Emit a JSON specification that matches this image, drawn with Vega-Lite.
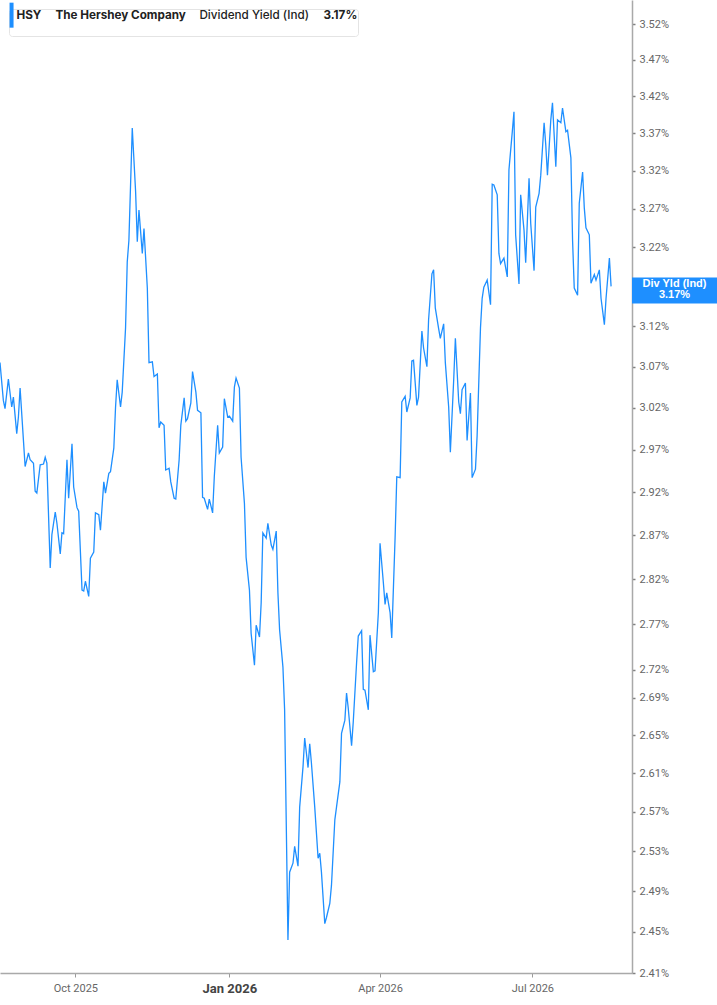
{
  "$schema": "https://vega.github.io/schema/vega-lite/v6.json",
  "width": 632,
  "height": 973,
  "padding": 0,
  "background": "white",
  "datasets": {
    "yield": [
      {"date":"2025-08-17","v":3.075},{"date":"2025-08-19","v":3.029},{"date":"2025-08-20","v":3.019},{"date":"2025-08-22","v":3.055},
      {"date":"2025-08-24","v":3.021},{"date":"2025-08-25","v":3.033},{"date":"2025-08-27","v":2.989},{"date":"2025-08-28","v":3.009},
      {"date":"2025-08-29","v":3.044},{"date":"2025-08-31","v":2.981},{"date":"2025-09-01","v":2.950},{"date":"2025-09-03","v":2.966},
      {"date":"2025-09-04","v":2.958},{"date":"2025-09-06","v":2.954},{"date":"2025-09-07","v":2.921},{"date":"2025-09-08","v":2.919},
      {"date":"2025-09-10","v":2.952},{"date":"2025-09-12","v":2.953},{"date":"2025-09-13","v":2.961},{"date":"2025-09-14","v":2.954},
      {"date":"2025-09-16","v":2.833},{"date":"2025-09-17","v":2.871},{"date":"2025-09-19","v":2.897},{"date":"2025-09-20","v":2.884},
      {"date":"2025-09-22","v":2.849},{"date":"2025-09-23","v":2.873},{"date":"2025-09-24","v":2.872},{"date":"2025-09-26","v":2.958},
      {"date":"2025-09-27","v":2.913},{"date":"2025-09-29","v":2.977},{"date":"2025-09-30","v":2.926},{"date":"2025-10-02","v":2.902},
      {"date":"2025-10-03","v":2.898},{"date":"2025-10-05","v":2.808},{"date":"2025-10-06","v":2.807},{"date":"2025-10-07","v":2.818},
      {"date":"2025-10-09","v":2.801},{"date":"2025-10-10","v":2.844},{"date":"2025-10-12","v":2.851},{"date":"2025-10-13","v":2.896},
      {"date":"2025-10-15","v":2.894},{"date":"2025-10-16","v":2.876},{"date":"2025-10-18","v":2.932},{"date":"2025-10-19","v":2.919},
      {"date":"2025-10-21","v":2.942},{"date":"2025-10-22","v":2.944},{"date":"2025-10-24","v":2.972},{"date":"2025-10-25","v":3.020},
      {"date":"2025-10-26","v":3.054},{"date":"2025-10-28","v":3.021},{"date":"2025-10-29","v":3.039},{"date":"2025-10-31","v":3.118},
      {"date":"2025-11-01","v":3.201},{"date":"2025-11-02","v":3.229},{"date":"2025-11-04","v":3.377},{"date":"2025-11-06","v":3.292},
      {"date":"2025-11-07","v":3.227},{"date":"2025-11-08","v":3.268},{"date":"2025-11-10","v":3.212},{"date":"2025-11-11","v":3.244},
      {"date":"2025-11-13","v":3.168},{"date":"2025-11-14","v":3.075},{"date":"2025-11-16","v":3.076},{"date":"2025-11-17","v":3.058},
      {"date":"2025-11-19","v":3.061},{"date":"2025-11-20","v":2.996},{"date":"2025-11-21","v":3.003},{"date":"2025-11-23","v":2.999},
      {"date":"2025-11-24","v":2.946},{"date":"2025-11-26","v":2.948},{"date":"2025-11-27","v":2.932},{"date":"2025-11-29","v":2.913},
      {"date":"2025-11-30","v":2.912},{"date":"2025-12-02","v":2.958},{"date":"2025-12-03","v":2.999},{"date":"2025-12-05","v":3.032},
      {"date":"2025-12-06","v":3.004},{"date":"2025-12-07","v":3.007},{"date":"2025-12-09","v":3.026},{"date":"2025-12-10","v":3.064},
      {"date":"2025-12-12","v":3.039},{"date":"2025-12-13","v":3.017},{"date":"2025-12-15","v":3.014},{"date":"2025-12-16","v":2.914},
      {"date":"2025-12-17","v":2.913},{"date":"2025-12-19","v":2.900},{"date":"2025-12-20","v":2.912},{"date":"2025-12-22","v":2.896},
      {"date":"2025-12-23","v":2.938},{"date":"2025-12-25","v":2.999},{"date":"2025-12-26","v":2.966},{"date":"2025-12-28","v":2.973},
      {"date":"2025-12-29","v":3.031},{"date":"2025-12-31","v":3.009},{"date":"2026-01-01","v":3.010},{"date":"2026-01-03","v":3.004},
      {"date":"2026-01-04","v":3.045},{"date":"2026-01-05","v":3.056},{"date":"2026-01-07","v":3.044},{"date":"2026-01-08","v":2.961},
      {"date":"2026-01-10","v":2.907},{"date":"2026-01-11","v":2.845},{"date":"2026-01-13","v":2.808},{"date":"2026-01-14","v":2.760},
      {"date":"2026-01-16","v":2.725},{"date":"2026-01-17","v":2.769},{"date":"2026-01-19","v":2.756},{"date":"2026-01-20","v":2.794},
      {"date":"2026-01-21","v":2.873},{"date":"2026-01-23","v":2.867},{"date":"2026-01-24","v":2.884},{"date":"2026-01-26","v":2.859},
      {"date":"2026-01-27","v":2.854},{"date":"2026-01-29","v":2.875},{"date":"2026-01-30","v":2.805},{"date":"2026-01-31","v":2.764},
      {"date":"2026-02-02","v":2.723},{"date":"2026-02-03","v":2.677},{"date":"2026-02-05","v":2.442},{"date":"2026-02-06","v":2.509},
      {"date":"2026-02-08","v":2.518},{"date":"2026-02-09","v":2.535},{"date":"2026-02-11","v":2.515},{"date":"2026-02-12","v":2.575},
      {"date":"2026-02-14","v":2.617},{"date":"2026-02-15","v":2.647},{"date":"2026-02-17","v":2.616},{"date":"2026-02-18","v":2.641},
      {"date":"2026-02-19","v":2.621},{"date":"2026-02-21","v":2.575},{"date":"2026-02-23","v":2.523},{"date":"2026-02-24","v":2.528},
      {"date":"2026-02-25","v":2.509},{"date":"2026-02-27","v":2.458},{"date":"2026-02-28","v":2.464},{"date":"2026-03-02","v":2.478},
      {"date":"2026-03-03","v":2.496},{"date":"2026-03-05","v":2.562},{"date":"2026-03-06","v":2.575},{"date":"2026-03-08","v":2.601},
      {"date":"2026-03-09","v":2.652},{"date":"2026-03-11","v":2.666},{"date":"2026-03-12","v":2.695},{"date":"2026-03-13","v":2.679},
      {"date":"2026-03-15","v":2.639},{"date":"2026-03-16","v":2.664},{"date":"2026-03-18","v":2.728},{"date":"2026-03-19","v":2.757},
      {"date":"2026-03-21","v":2.763},{"date":"2026-03-22","v":2.699},{"date":"2026-03-23","v":2.698},{"date":"2026-03-25","v":2.677},
      {"date":"2026-03-26","v":2.758},{"date":"2026-03-28","v":2.718},{"date":"2026-03-29","v":2.719},{"date":"2026-03-31","v":2.783},
      {"date":"2026-04-01","v":2.861},{"date":"2026-04-03","v":2.816},{"date":"2026-04-04","v":2.792},{"date":"2026-04-05","v":2.805},
      {"date":"2026-04-07","v":2.783},{"date":"2026-04-08","v":2.755},{"date":"2026-04-10","v":2.868},{"date":"2026-04-11","v":2.938},
      {"date":"2026-04-13","v":2.937},{"date":"2026-04-14","v":3.027},{"date":"2026-04-16","v":3.034},{"date":"2026-04-17","v":3.015},
      {"date":"2026-04-19","v":3.032},{"date":"2026-04-20","v":3.077},{"date":"2026-04-21","v":3.078},{"date":"2026-04-23","v":3.023},
      {"date":"2026-04-24","v":3.033},{"date":"2026-04-26","v":3.114},{"date":"2026-04-27","v":3.093},{"date":"2026-04-29","v":3.070},
      {"date":"2026-04-30","v":3.128},{"date":"2026-05-02","v":3.186},{"date":"2026-05-03","v":3.191},{"date":"2026-05-04","v":3.143},
      {"date":"2026-05-06","v":3.117},{"date":"2026-05-07","v":3.105},{"date":"2026-05-09","v":3.123},{"date":"2026-05-10","v":3.075},
      {"date":"2026-05-12","v":3.021},{"date":"2026-05-13","v":2.967},{"date":"2026-05-15","v":3.054},{"date":"2026-05-16","v":3.105},
      {"date":"2026-05-18","v":3.027},{"date":"2026-05-19","v":3.013},{"date":"2026-05-20","v":3.042},{"date":"2026-05-22","v":3.050},
      {"date":"2026-05-23","v":2.981},{"date":"2026-05-25","v":3.038},{"date":"2026-05-26","v":2.937},{"date":"2026-05-28","v":2.947},
      {"date":"2026-05-29","v":2.987},{"date":"2026-05-31","v":3.118},{"date":"2026-06-01","v":3.155},{"date":"2026-06-02","v":3.169},
      {"date":"2026-06-04","v":3.178},{"date":"2026-06-06","v":3.147},{"date":"2026-06-07","v":3.302},{"date":"2026-06-08","v":3.301},
      {"date":"2026-06-10","v":3.288},{"date":"2026-06-11","v":3.212},{"date":"2026-06-12","v":3.199},{"date":"2026-06-14","v":3.206},
      {"date":"2026-06-16","v":3.182},{"date":"2026-06-17","v":3.321},{"date":"2026-06-19","v":3.372},{"date":"2026-06-20","v":3.399},
      {"date":"2026-06-21","v":3.236},{"date":"2026-06-23","v":3.173},{"date":"2026-06-24","v":3.288},{"date":"2026-06-26","v":3.242},
      {"date":"2026-06-27","v":3.200},{"date":"2026-06-29","v":3.310},{"date":"2026-06-30","v":3.251},{"date":"2026-07-02","v":3.190},
      {"date":"2026-07-03","v":3.272},{"date":"2026-07-05","v":3.290},{"date":"2026-07-06","v":3.314},{"date":"2026-07-08","v":3.384},
      {"date":"2026-07-09","v":3.354},{"date":"2026-07-10","v":3.314},{"date":"2026-07-12","v":3.388},{"date":"2026-07-13","v":3.411},
      {"date":"2026-07-15","v":3.325},{"date":"2026-07-16","v":3.388},{"date":"2026-07-18","v":3.384},{"date":"2026-07-19","v":3.404},
      {"date":"2026-07-21","v":3.372},{"date":"2026-07-22","v":3.374},{"date":"2026-07-24","v":3.337},{"date":"2026-07-25","v":3.229},
      {"date":"2026-07-26","v":3.168},{"date":"2026-07-28","v":3.159},{"date":"2026-07-29","v":3.277},{"date":"2026-07-31","v":3.318},
      {"date":"2026-08-01","v":3.271},{"date":"2026-08-02","v":3.245},{"date":"2026-08-04","v":3.236},{"date":"2026-08-05","v":3.174},
      {"date":"2026-08-07","v":3.185},{"date":"2026-08-08","v":3.178},{"date":"2026-08-10","v":3.191},{"date":"2026-08-11","v":3.155},
      {"date":"2026-08-13","v":3.122},{"date":"2026-08-14","v":3.155},{"date":"2026-08-16","v":3.206},{"date":"2026-08-17","v":3.170}
    ],
    "tag": [
      {"date":"2026-08-29T12:00:00Z","v":3.17,"label":"Div Yld (Ind)\n3.17%"}
    ]
  },
  "layer": [
    {
      "data": {"name": "yield"},
      "mark": {"type": "line", "strokeWidth": 1.3, "clip": true},
      "encoding": {
        "x": {
          "field": "date",
          "type": "temporal",
          "scale": {
            "type": "utc",
            "domain": [
              {"year": 2025, "month": 8, "date": 17, "utc": true},
              {"year": 2026, "month": 8, "date": 29, "hours": 12, "utc": true}
            ]
          },
          "axis": {
            "title": null,
            "grid": false,
            "values": [
              {"year": 2025, "month": 10, "date": 1, "utc": true},
              {"year": 2026, "month": 1, "date": 1, "utc": true},
              {"year": 2026, "month": 4, "date": 1, "utc": true},
              {"year": 2026, "month": 7, "date": 1, "utc": true}
            ],
            "labelExpr": "utcFormat(datum.value, '%b %Y')",
            "labelFont": "Roboto",
            "labelFontSize": {"condition": {"test": "utcmonth(datum.value) == 0", "value": 13}, "value": 11},
            "labelFontWeight": {"condition": {"test": "utcmonth(datum.value) == 0", "value": "bold"}, "value": "normal"},
            "labelColor": {"condition": {"test": "utcmonth(datum.value) == 0", "value": "#444444"}, "value": "#666666"},
            "labelPadding": 5,
            "domainColor": "#a9a9a9",
            "domainWidth": 1.5,
            "tickColor": "#9a9a9a",
            "tickSize": 4
          }
        },
        "y": {
          "field": "v",
          "type": "quantitative",
          "scale": {"type": "log", "domain": [2.41, 3.554], "nice": false, "zero": false},
          "axis": {
            "orient": "right",
            "title": null,
            "grid": false,
            "values": [3.52, 3.47, 3.42, 3.37, 3.32, 3.27, 3.22, 3.12, 3.07, 3.02, 2.97, 2.92, 2.87, 2.82, 2.77, 2.72, 2.69, 2.65, 2.61, 2.57, 2.53, 2.49, 2.45, 2.41],
            "labelExpr": "format(datum.value, '.2f') + '%'",
            "labelFont": "Roboto",
            "labelFontSize": 11,
            "labelColor": "#666666",
            "labelPadding": 4,
            "domainColor": "#a9a9a9",
            "domainWidth": 1.5,
            "tickColor": "#808080",
            "tickSize": 3,
            "tickWidth": 1.5
          }
        },
        "color": {
          "datum": "HSY",
          "type": "nominal",
          "scale": {
            "domain": ["HSY", "The Hershey Company", "Dividend Yield (Ind)", "3.17%\u00a0\u00a0"],
            "range": ["#1e8fff", "transparent", "transparent", "transparent"]
          },
          "legend": {
            "title": null,
            "orient": "top-left",
            "direction": "horizontal",
            "columns": 4,
            "offset": 9,
            "padding": 0,
            "fillColor": "white",
            "strokeColor": "#e4e4e4",
            "cornerRadius": 3,
            "symbolType": "M0,-6.25L0,6.25",
            "symbolSize": 16,
            "symbolStrokeWidth": 4,
            "symbolOffset": -3.3,
            "labelOffset": -1,
            "columnPadding": 0,
            "labelFont": "Inter",
            "labelFontSize": 11.7,
            "labelFontWeight": {"expr": "datum.label == 'Dividend Yield (Ind)' ? 500 : 700"},
            "labelColor": "#222222",
            "labelLimit": 0
          }
        }
      }
    },
    {
      "data": {"name": "tag"},
      "mark": {"type": "rect", "color": "#1e8fff", "yOffset": -9, "y2Offset": 17, "x2Offset": 85},
      "encoding": {
        "x": {"field": "date", "type": "temporal"},
        "x2": {"field": "date"},
        "y": {"field": "v", "type": "quantitative"},
        "y2": {"field": "v"}
      }
    },
    {
      "data": {"name": "tag"},
      "mark": {
        "type": "text",
        "color": "white",
        "font": "Liberation Sans",
        "fontWeight": "bold",
        "fontSize": 11,
        "align": "center",
        "baseline": "middle",
        "lineBreak": "\n",
        "lineHeight": 11,
        "xOffset": 42.5,
        "yOffset": -2.5
      },
      "encoding": {
        "x": {"field": "date", "type": "temporal"},
        "y": {"field": "v", "type": "quantitative"},
        "text": {"field": "label"}
      }
    }
  ],
  "config": {
    "view": {"stroke": null},
    "font": "Roboto"
  }
}
